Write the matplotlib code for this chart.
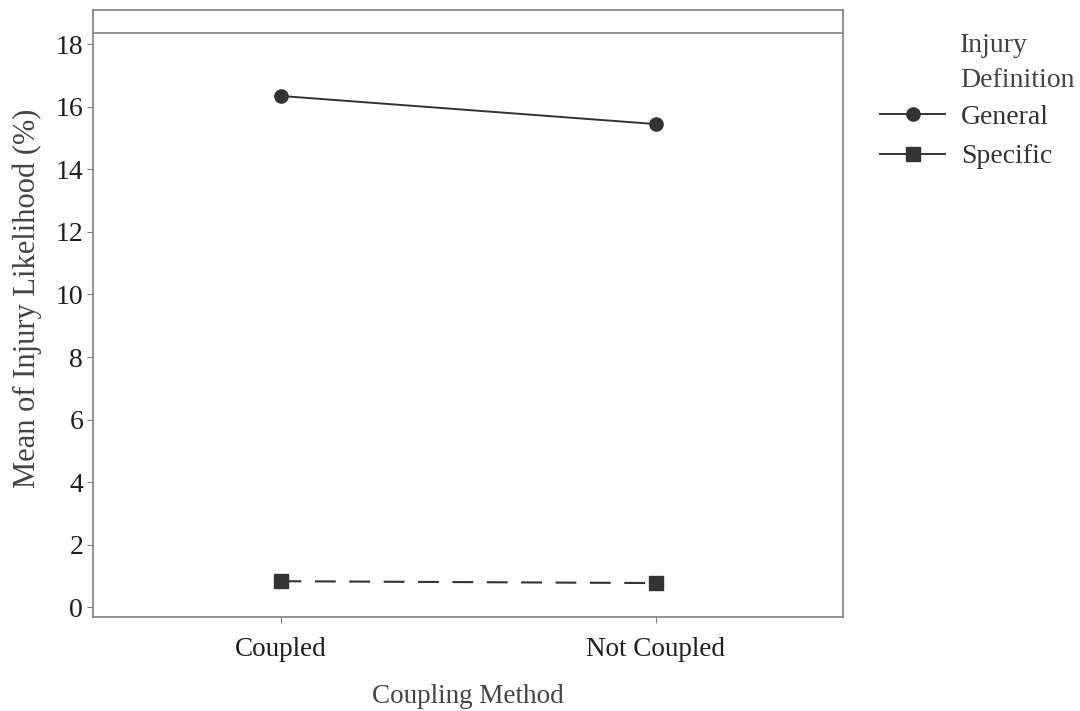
import matplotlib
matplotlib.use("Agg")
import matplotlib.pyplot as plt
from matplotlib.lines import Line2D

categories = ["Coupled", "Not Coupled"]
general = [16.35, 15.45]
specific = [0.83, 0.77]
yticks = [0, 2, 4, 6, 8, 10, 12, 14, 16, 18]
ref_line = 18.35
legend_labels = ["General", "Specific"]
legend_title = "Injury\nDefinition"

plt.rcParams['font.family'] = ['Liberation Serif', 'DejaVu Serif']

fig = plt.figure(figsize=(10.8, 7.11), dpi=100)
ax = fig.add_axes([0.086, 0.132, 0.695, 0.854])

x = list(range(len(categories)))
dark = "#333333"
ax.axhline(ref_line, color="#8c8c8c", lw=1.3, zorder=1)
ax.plot(x, general, color=dark, lw=1.4, marker="o", ms=9.5, label=legend_labels[0], zorder=3)
ax.plot(x, specific, color=dark, lw=1.5, ls=(0, (10, 6.5)), marker="s", ms=9.5,
        label=legend_labels[1], zorder=3)

ax.set_xlim(-0.5, 1.5)
ax.set_ylim(-0.32, 19.1)
ax.set_xticks(x)
ax.set_xticklabels(categories)
ax.set_yticks(yticks)
ax.tick_params(axis="both", color="#808080", length=4, labelcolor="#1e1e1e")
ax.tick_params(axis="y", labelsize=20, pad=3)
ax.tick_params(axis="x", labelsize=19.5, pad=10)
for s in ax.spines.values():
    s.set_color("#808080")
    s.set_linewidth(1.2)

ax.set_xlabel("Coupling Method", fontsize=19.5, color="#444444", labelpad=16)
ax.set_ylabel("Mean of Injury Likelihood (%)", fontsize=22, color="#444444")
ax.yaxis.set_label_coords(-0.068, 0.525)

handles = [Line2D([], [], color=dark, lw=1.4, marker="o", ms=9.5),
           Line2D([], [], color=dark, lw=1.4, marker="s", ms=9.5)]
leg = fig.legend(handles, legend_labels,
                 loc="center left", bbox_to_anchor=(0.815, 1 - 137 / 711), frameon=False,
                 fontsize=20, handlelength=2.35, labelspacing=0.5,
                 handletextpad=0.55, borderpad=0, borderaxespad=0)
for t in leg.get_texts():
    t.set_color("#333333")
fig.text(960 / 1080, 1 - 63 / 711, legend_title, fontsize=20, color="#444444",
         ha="left", va="center", linespacing=1.5)

fig.savefig("out.png", dpi=100)
